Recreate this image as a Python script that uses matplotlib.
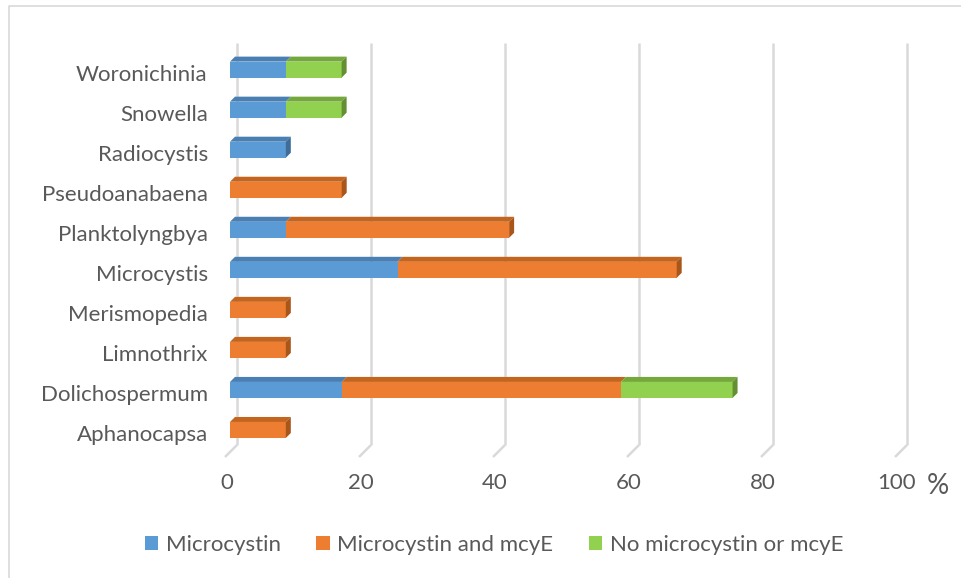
import matplotlib
matplotlib.use("Agg")
import matplotlib.pyplot as plt
import matplotlib.transforms as mtransforms
from matplotlib.patches import Polygon, Patch
from matplotlib.lines import Line2D
import numpy as np

categories = ["Aphanocapsa", "Dolichospermum", "Limnothrix", "Merismopedia", "Microcystis",
              "Planktolyngbya", "Pseudoanabaena", "Radiocystis", "Snowella", "Woronichinia"]
microcystin = [0, 16.67, 0, 0, 25.0, 8.33, 0, 8.33, 8.33, 8.33]
microcystin_mcye = [8.33, 41.67, 8.33, 8.33, 41.67, 33.33, 16.67, 0, 0, 0]
no_microcystin = [0, 16.67, 0, 0, 0, 0, 0, 0, 8.33, 8.33]
series_names = ["Microcystin", "Microcystin and mcyE", "No microcystin or mcyE"]
xticks = [0, 20, 40, 60, 80, 100]

colors = ["#5B9BD5", "#ED7D31", "#92D050"]
top_colors = ["#4A7FB3", "#C4651F", "#74A83B"]
side_colors = ["#3E6D99", "#A9561A", "#648F33"]

W, H, DPI = 961, 578, 100
fig = plt.figure(figsize=(W / DPI, H / DPI), dpi=DPI)
plt.rcParams['font.family'] = ['Lato', 'DejaVu Sans']

# chart border (top and left edges visible)
fig.lines.append(Line2D([9 / W, 9 / W, 1.0], [0.0, 1 - 6 / H, 1 - 6 / H],
                        transform=fig.transFigure, color="#D9D9D9", lw=1.2))

ax_l, ax_r = 230, 900
ax_top, ax_bot = 50, 452
ax = fig.add_axes([ax_l / W, 1 - ax_bot / H, (ax_r - ax_l) / W, (ax_bot - ax_top) / H])
ax.set_xlim(0, 100)
ax.set_ylim(-0.55, 9.49)
for s in ax.spines.values():
    s.set_visible(False)
ax.patch.set_visible(False)

px_x = 100 / (ax_r - ax_l)
px_y = (9.49 + 0.55) / (ax_bot - ax_top)

# 3D gridlines (back wall + floor slant)
for v in xticks:
    x_back = v + 7 * px_x
    ax.plot([x_back, x_back], [-0.55 + 7 * px_y, 9.49 + 7 * px_y], color="#D9D9D9", lw=1.8,
            zorder=0, clip_on=False, solid_capstyle="butt")
    ax.plot([v - 5 * px_x, x_back], [-0.55 - 5 * px_y, -0.55 + 7 * px_y], color="#D9D9D9", lw=1.8,
            zorder=0, clip_on=False, solid_capstyle="butt")

y = np.arange(len(categories))
bh = 0.4
depth = 5
dx, dy = depth * px_x, depth * px_y
series = [microcystin, microcystin_mcye, no_microcystin]
left = np.zeros(len(categories))
for k, vals in enumerate(series):
    vals = np.array(vals)
    ax.barh(y, vals, left=left, height=bh, color=colors[k], edgecolor="none", zorder=3)
    for i in range(len(categories)):
        if vals[i] <= 0:
            continue
        x0, x1 = left[i], left[i] + vals[i]
        yt = y[i] + bh / 2
        ax.add_patch(Polygon([(x0, yt), (x1, yt), (x1 + dx, yt + dy), (x0 + dx, yt + dy)],
                             closed=True, facecolor=top_colors[k], edgecolor="none", zorder=2))
    left = left + vals

# right side faces for the last segment of each bar
for i in range(len(categories)):
    tot = left[i]
    last = max(k for k in range(3) if series[k][i] > 0)
    yb, yt = y[i] - bh / 2, y[i] + bh / 2
    ax.add_patch(Polygon([(tot, yb), (tot, yt), (tot + dx, yt + dy), (tot + dx, yb + dy)],
                         closed=True, facecolor=side_colors[last], edgecolor="none", zorder=4))

fs = 16
ax.set_yticks(y)
ax.set_yticklabels(categories, fontsize=fs, color="#595959")
ax.set_xticks(xticks)
ax.set_xticklabels([str(t) for t in xticks], fontsize=fs, color="#595959")
ax.tick_params(axis="y", length=0, pad=16)
ax.tick_params(axis="x", length=0, pad=15)
for lbl in ax.get_xticklabels():
    lbl.set_transform(lbl.get_transform() + mtransforms.ScaledTranslation(-3 / DPI, 0, fig.dpi_scale_trans))
for lbl in ax.get_yticklabels():
    lbl.set_transform(lbl.get_transform() + mtransforms.ScaledTranslation(0, -3 / DPI, fig.dpi_scale_trans))

fig.text(938 / W, 1 - 486 / H, "%", fontsize=20, color="#595959", ha="center", va="center")

handles = [Patch(facecolor=c, edgecolor="none") for c in colors]
fig.legend(handles, series_names, loc="center", bbox_to_anchor=(494 / W, 1 - 545 / H),
           ncol=3, frameon=False, fontsize=fs, labelcolor="#595959",
           handlelength=0.6, handleheight=0.6, handletextpad=0.35, columnspacing=1.6)

fig.savefig("out.png", dpi=DPI)
